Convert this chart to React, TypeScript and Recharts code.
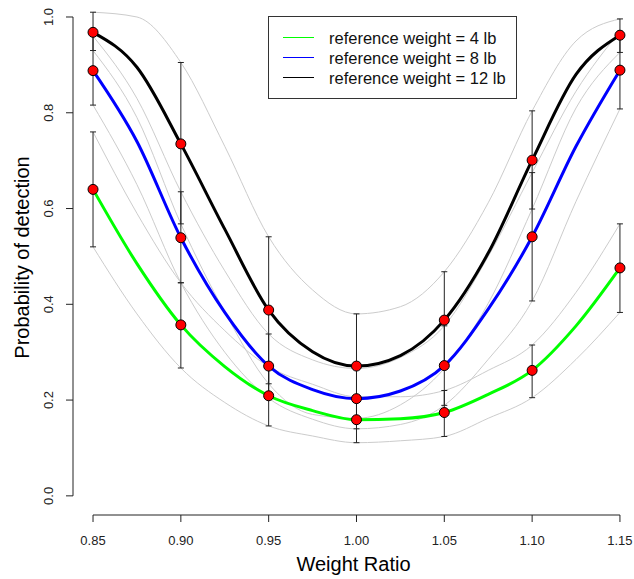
import {
  ComposedChart,
  Line,
  Scatter,
  ErrorBar,
  XAxis,
  YAxis,
  ReferenceLine,
} from "recharts";

// sample points along the fitted curves
const X = [0.85, 0.875, 0.9, 0.925, 0.95, 0.975, 1.0, 1.025, 1.05, 1.075, 1.1, 1.125, 1.15];
// observed weight ratios (also the x ticks)
const OBS_X = [0.85, 0.9, 0.95, 1.0, 1.05, 1.1, 1.15];
const Y_TICKS = [0, 0.2, 0.4, 0.6, 0.8, 1.0];

// fitted probability of detection
const FIT_4 = [0.64, 0.485, 0.357, 0.27, 0.209, 0.178, 0.159, 0.161, 0.174, 0.212, 0.262, 0.355, 0.476];
const FIT_8 = [0.888, 0.74, 0.539, 0.383, 0.271, 0.222, 0.203, 0.219, 0.272, 0.39, 0.541, 0.73, 0.889];
const FIT_12 = [0.968, 0.895, 0.735, 0.557, 0.388, 0.301, 0.271, 0.293, 0.367, 0.507, 0.701, 0.88, 0.962];

// confidence bands (grey)
const LO_4 = [0.52, 0.38, 0.267, 0.195, 0.146, 0.125, 0.111, 0.115, 0.124, 0.162, 0.205, 0.285, 0.383];
const HI_4 = [0.76, 0.59, 0.445, 0.345, 0.27, 0.233, 0.207, 0.207, 0.22, 0.262, 0.315, 0.425, 0.568];
const LO_8 = [0.816, 0.65, 0.445, 0.3, 0.204, 0.16, 0.14, 0.149, 0.189, 0.285, 0.407, 0.615, 0.808];
const HI_8 = [0.96, 0.83, 0.635, 0.47, 0.338, 0.284, 0.266, 0.289, 0.355, 0.5, 0.675, 0.845, 0.97];
const LO_12 = [0.93, 0.79, 0.568, 0.384, 0.234, 0.17, 0.162, 0.19, 0.266, 0.402, 0.599, 0.81, 0.926];
const HI_12 = [1.01, 1.0, 0.905, 0.73, 0.541, 0.43, 0.38, 0.395, 0.468, 0.612, 0.804, 0.95, 0.996];

// observed proportions (red dots)
const OBS_4 = [0.64, 0.357, 0.209, 0.159, 0.174, 0.262, 0.476];
const OBS_8 = [0.888, 0.539, 0.271, 0.203, 0.272, 0.541, 0.889];
const OBS_12 = [0.968, 0.735, 0.388, 0.271, 0.367, 0.701, 0.962];

// error bar ends
const BAR_LO_4 = [0.52, 0.267, 0.146, 0.111, 0.124, 0.205, 0.383];
const BAR_HI_4 = [0.76, 0.445, 0.27, 0.207, 0.22, 0.315, 0.568];
const BAR_LO_8 = [0.816, 0.445, 0.204, 0.14, 0.189, 0.407, 0.808];
const BAR_HI_8 = [0.96, 0.635, 0.338, 0.266, 0.355, 0.675, 0.97];
const BAR_LO_12 = [0.93, 0.568, 0.234, 0.162, 0.266, 0.599, 0.926];
const BAR_HI_12 = [1.01, 0.905, 0.541, 0.38, 0.468, 0.804, 0.996];

const SERIES = [
  { key: "w4", name: "reference weight = 4 lb", color: "#00ff00", fit: FIT_4, lo: LO_4, hi: HI_4, obs: OBS_4, barLo: BAR_LO_4, barHi: BAR_HI_4 },
  { key: "w8", name: "reference weight = 8 lb", color: "#0000ff", fit: FIT_8, lo: LO_8, hi: HI_8, obs: OBS_8, barLo: BAR_LO_8, barHi: BAR_HI_8 },
  { key: "w12", name: "reference weight = 12 lb", color: "#000000", fit: FIT_12, lo: LO_12, hi: HI_12, obs: OBS_12, barLo: BAR_LO_12, barHi: BAR_HI_12 },
];

const rows = X.map((x, i) => {
  const r: Record<string, number> = { x };
  SERIES.forEach((s) => {
    r[s.key] = s.fit[i];
    r[s.key + "Lo"] = s.lo[i];
    r[s.key + "Hi"] = s.hi[i];
  });
  return r;
});

const points = (s: (typeof SERIES)[number]) =>
  OBS_X.map((x, i) => ({
    x,
    y: s.obs[i],
    err: [s.obs[i] - s.barLo[i], s.barHi[i] - s.obs[i]],
  }));

const W = 634;
const H = 579;
const X_DOMAIN = [0.8386, 1.158];
const Y_DOMAIN = [-0.04, 1.0355];
const FONT = '"Liberation Sans", Arial, sans-serif';

const YTick = (props: any) => {
  const { x, y, payload } = props;
  const cx = x - 16;
  return (
    <text
      x={cx}
      y={y}
      transform={`rotate(-90, ${cx}, ${y})`}
      textAnchor="middle"
      dy="0.35em"
      fontSize={13}
      fill="#222"
    >
      {Number(payload.value).toFixed(1)}
    </text>
  );
};

const Dot = (p: any) => (
  <circle cx={p.cx} cy={p.cy} r={5} fill="#ff0000" stroke="#000" strokeWidth={1} />
);

export default function App() {
  return (
    <div style={{ position: "absolute", left: 0, top: 0, width: W, height: H, fontFamily: FONT, background: "#fff" }}>
      <ComposedChart width={W} height={H} data={rows} margin={{ top: 0, right: 0, bottom: 0, left: 0 }}>
        <XAxis
          type="number"
          dataKey="x"
          domain={X_DOMAIN}
          allowDataOverflow
          ticks={OBS_X}
          interval={0}
          tickFormatter={(v: number) => v.toFixed(2)}
          axisLine={false}
          tickLine={{ stroke: "#222" }}
          tickSize={7}
          tickMargin={14}
          height={64}
          tick={{ fontSize: 13, fill: "#222" }}
          label={{ value: "Weight Ratio", position: "insideBottom", offset: 8, fontSize: 20, fill: "#000" }}
        />
        <YAxis
          type="number"
          domain={Y_DOMAIN}
          allowDataOverflow
          ticks={Y_TICKS}
          interval={0}
          axisLine={false}
          tickLine={{ stroke: "#222" }}
          tickSize={7}
          width={73}
          tick={<YTick />}
          label={{
            value: "Probability of detection",
            angle: -90,
            position: "insideLeft",
            offset: 22,
            fontSize: 20,
            fill: "#000",
            style: { textAnchor: "middle" },
          }}
        />
        <ReferenceLine
          segment={[{ x: OBS_X[0], y: Y_DOMAIN[0] }, { x: OBS_X[OBS_X.length - 1], y: Y_DOMAIN[0] }]}
          stroke="#222"
          ifOverflow="visible"
        />
        <ReferenceLine
          segment={[{ x: X_DOMAIN[0], y: Y_TICKS[0] }, { x: X_DOMAIN[0], y: Y_TICKS[Y_TICKS.length - 1] }]}
          stroke="#222"
          ifOverflow="visible"
        />

        {SERIES.flatMap((s) => [
          <Line key={s.key + "Lo"} dataKey={s.key + "Lo"} type="monotone" stroke="#cccccc" strokeWidth={1} dot={false} activeDot={false} isAnimationActive={false} legendType="none" />,
          <Line key={s.key + "Hi"} dataKey={s.key + "Hi"} type="monotone" stroke="#cccccc" strokeWidth={1} dot={false} activeDot={false} isAnimationActive={false} legendType="none" />,
        ])}

        {SERIES.map((s) => (
          <Line key={s.key} dataKey={s.key} name={s.name} type="monotone" stroke={s.color} strokeWidth={3} dot={false} activeDot={false} isAnimationActive={false} />
        ))}

        {SERIES.map((s) => (
          <Scatter key={s.key + "Pts"} data={points(s)} dataKey="y" shape={<Dot />} isAnimationActive={false} legendType="none" />
        ))}

        {/* error bars drawn over the dots, as in the original */}
        {SERIES.map((s) => (
          <Scatter key={s.key + "Err"} data={points(s)} dataKey="y" shape={() => <g />} isAnimationActive={false} legendType="none">
            <ErrorBar dataKey="err" direction="y" width={3} stroke="#222" strokeWidth={1} />
          </Scatter>
        ))}
      </ComposedChart>

      <svg width={W} height={H} style={{ position: "absolute", left: 0, top: 0, pointerEvents: "none" }}>
        <rect x={268.5} y={16.5} width={248} height={82} fill="#fff" stroke="#333" />
        {SERIES.map((s, i) => (
          <g key={s.key}>
            <line x1={283} x2={314} y1={37.5 + i * 20} y2={37.5 + i * 20} stroke={s.color} strokeWidth={1} />
            <text x={329} y={43.5 + i * 20} fontSize={16.5} fill="#111" fontFamily={FONT}>
              {s.name}
            </text>
          </g>
        ))}
      </svg>
    </div>
  );
}
